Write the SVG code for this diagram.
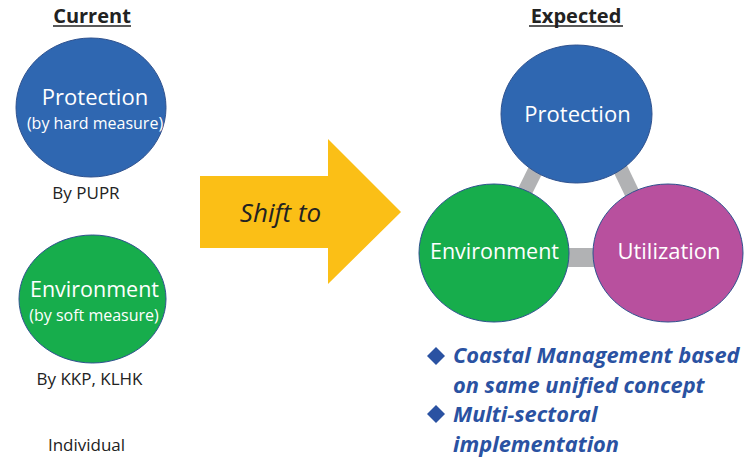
<svg xmlns="http://www.w3.org/2000/svg" width="755" height="461" viewBox="0 0 755 461">
<style>
.c{stroke:#2f528f;stroke-width:1}
.w{fill:#fff;font-family:"Open Sans",sans-serif;text-anchor:middle}
.d{fill:#222;font-family:"Open Sans",sans-serif;text-anchor:middle}
.h{fill:#222;font-family:"Open Sans",sans-serif;font-weight:bold;text-anchor:middle;font-size:20px}
.b{fill:#2a52a2;font-family:"Open Sans",sans-serif;font-weight:bold;font-style:italic;font-size:21.8px}
.k{stroke:#b1b2b4;fill:none}
</style>
<rect width="755" height="461" fill="#fff"/>
<g id="title-current">
<text class="h" x="92" y="23">Current</text>
<line x1="53" y1="26" x2="131" y2="26" stroke="#222" stroke-width="1.6"/>
</g>
<g id="title-expected">
<text class="h" x="576" y="23">Expected</text>
<line x1="529" y1="26" x2="623" y2="26" stroke="#222" stroke-width="1.6"/>
</g>
<g id="current-protection">
<ellipse class="c" cx="91" cy="107.5" rx="75" ry="69.5" fill="#2f67b1"/>
<text class="w" x="95" y="105" font-size="22">Protection</text>
<text class="w" x="95" y="129" font-size="16">(by hard measure)</text>
<text class="d" x="86" y="199" font-size="17">By PUPR</text>
</g>
<g id="current-environment">
<ellipse class="c" cx="92.5" cy="299" rx="73.5" ry="64" fill="#17ad4c"/>
<text class="w" x="94.5" y="297" font-size="21.5">Environment</text>
<text class="w" x="94" y="321" font-size="16">(by soft measure)</text>
<text class="d" x="89.5" y="385" font-size="17">By KKP, KLHK</text>
<text class="d" x="86.5" y="451" font-size="17">Individual</text>
</g>
<g id="shift-arrow">
<polygon points="200,176 328,176 328,139 401,212 328,284 328,248 200,248" fill="#fbbf16"/>
<text x="280.5" y="222" font-family="'Open Sans',sans-serif" font-style="italic" font-size="26" fill="#222" text-anchor="middle">Shift to</text>
</g>
<g id="connectors">
<line class="k" x1="579" y1="83" x2="492" y2="257.5" stroke-width="15"/>
<line class="k" x1="579" y1="83" x2="663" y2="257.5" stroke-width="15"/>
<line class="k" x1="492" y1="257.5" x2="663" y2="257.5" stroke-width="19"/>
</g>
<g id="expected-protection">
<ellipse class="c" cx="576.5" cy="114" rx="75.5" ry="69" fill="#2f67b1"/>
<text class="w" x="577.5" y="122" font-size="22">Protection</text>
</g>
<g id="expected-environment">
<ellipse class="c" cx="494" cy="253" rx="75" ry="69" fill="#17ad4c"/>
<text class="w" x="494.5" y="259" font-size="21.5">Environment</text>
</g>
<g id="expected-utilization">
<ellipse class="c" cx="668" cy="253" rx="75" ry="69" fill="#b8509e"/>
<text class="w" x="669" y="259" font-size="22">Utilization</text>
</g>
<g id="bullets">
<polygon points="436,347 445,356 436,365 427,356" fill="#2a52a2"/>
<text class="b" x="453" y="363">Coastal Management based</text>
<text class="b" x="453" y="393">on same unified concept</text>
<polygon points="436,405 445,414 436,423 427,414" fill="#2a52a2"/>
<text class="b" x="453" y="422">Multi-sectoral</text>
<text class="b" x="453" y="452">implementation</text>
</g>
</svg>
